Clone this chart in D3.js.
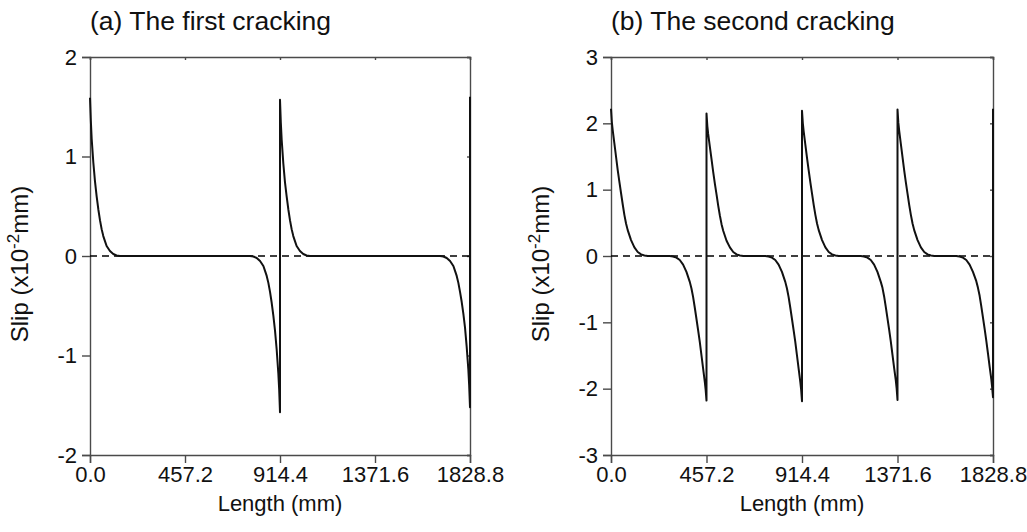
<!DOCTYPE html>
<html>
<head>
<meta charset="utf-8">
<script src="https://cdn.jsdelivr.net/npm/d3@7"></script>
<style>
  body { margin: 0; background: #fff; }
  svg text { font-family: "Liberation Sans", Arial, sans-serif; fill: #111; }
</style>
</head>
<body>
<svg id="chart" width="1027" height="532"></svg>
<script>
// ---------- DATA ----------
const xTicks = [0, 457.2, 914.4, 1371.6, 1828.8];
const xTickLabels = ["0.0", "457.2", "914.4", "1371.6", "1828.8"];

const titleA = "(a) The first cracking";
const titleB = "(b) The second cracking";
const yTicksA = [-2, -1, 0, 1, 2];
const yTicksB = [-3, -2, -1, 0, 1, 2, 3];

// (a) first cracking: slip along length (mm), slip (x10^-2 mm)
const slipA_x = [
  0, 4, 8, 16, 24, 32, 40, 48, 56, 64, 72, 80, 96, 112, 128, 144,
  770.4, 786.4, 802.4, 818.4, 834.4, 842.4, 850.4, 858.4, 866.4, 874.4, 882.4, 890.4, 898.4, 906.4, 910.4, 914.4,
  914.4, 918.4, 922.4, 930.4, 938.4, 946.4, 954.4, 962.4, 970.4, 978.4, 986.4, 994.4, 1010.4, 1026.4, 1042.4, 1058.4,
  1684.8, 1700.8, 1716.8, 1732.8, 1748.8, 1756.8, 1764.8, 1772.8, 1780.8, 1788.8, 1796.8, 1804.8, 1812.8, 1820.8, 1824.8, 1828.8,
  1828.8
];
const slipA_y = [
  1.59, 1.36, 1.18, 0.94, 0.75, 0.60, 0.47, 0.36, 0.27, 0.20, 0.15, 0.10, 0.05, 0.02, 0.005, 0,
  0, -0.005, -0.02, -0.05, -0.10, -0.15, -0.20, -0.27, -0.36, -0.47, -0.60, -0.75, -0.94, -1.18, -1.34, -1.57,
  1.57, 1.34, 1.17, 0.93, 0.74, 0.60, 0.47, 0.36, 0.27, 0.20, 0.15, 0.10, 0.05, 0.02, 0.005, 0,
  0, -0.005, -0.02, -0.05, -0.10, -0.15, -0.20, -0.27, -0.36, -0.46, -0.58, -0.72, -0.91, -1.14, -1.30, -1.52,
  1.60
];

// (b) second cracking
const slipB_x = [
  0, 4, 8, 16, 24, 32, 40, 48, 56, 64, 72, 80, 96, 112, 128, 144, 160, 176,
  281.2, 297.2, 313.2, 329.2, 345.2, 361.2, 377.2, 385.2, 393.2, 401.2, 409.2, 417.2, 425.2, 433.2, 441.2, 449.2, 453.2, 457.2,
  457.2, 461.2, 465.2, 473.2, 481.2, 489.2, 497.2, 505.2, 513.2, 521.2, 529.2, 537.2, 553.2, 569.2, 585.2, 601.2, 617.2, 633.2,
  738.4, 754.4, 770.4, 786.4, 802.4, 818.4, 834.4, 842.4, 850.4, 858.4, 866.4, 874.4, 882.4, 890.4, 898.4, 906.4, 910.4, 914.4,
  914.4, 918.4, 922.4, 930.4, 938.4, 946.4, 954.4, 962.4, 970.4, 978.4, 986.4, 994.4, 1010.4, 1026.4, 1042.4, 1058.4, 1074.4, 1090.4,
  1195.6, 1211.6, 1227.6, 1243.6, 1259.6, 1275.6, 1291.6, 1299.6, 1307.6, 1315.6, 1323.6, 1331.6, 1339.6, 1347.6, 1355.6, 1363.6, 1367.6, 1371.6,
  1371.6, 1375.6, 1379.6, 1387.6, 1395.6, 1403.6, 1411.6, 1419.6, 1427.6, 1435.6, 1443.6, 1451.6, 1467.6, 1483.6, 1499.6, 1515.6, 1531.6, 1547.6,
  1652.8, 1668.8, 1684.8, 1700.8, 1716.8, 1732.8, 1748.8, 1756.8, 1764.8, 1772.8, 1780.8, 1788.8, 1796.8, 1804.8, 1812.8, 1820.8, 1824.8, 1828.8,
  1828.8
];
const slipB_y = [
  2.22, 2.02, 1.90, 1.70, 1.50, 1.30, 1.12, 0.95, 0.78, 0.62, 0.49, 0.39, 0.24, 0.13, 0.06, 0.025, 0.008, 0,
  0, -0.008, -0.025, -0.06, -0.13, -0.24, -0.39, -0.49, -0.62, -0.78, -0.95, -1.12, -1.30, -1.50, -1.70, -1.90, -2.02, -2.18,
  2.15, 1.96, 1.84, 1.65, 1.46, 1.27, 1.09, 0.93, 0.76, 0.61, 0.48, 0.38, 0.23, 0.13, 0.06, 0.025, 0.008, 0,
  0, -0.008, -0.025, -0.06, -0.13, -0.24, -0.39, -0.49, -0.62, -0.78, -0.95, -1.12, -1.30, -1.50, -1.70, -1.90, -2.02, -2.19,
  2.19, 2.00, 1.88, 1.68, 1.48, 1.29, 1.11, 0.94, 0.77, 0.62, 0.49, 0.39, 0.24, 0.13, 0.06, 0.025, 0.008, 0,
  0, -0.008, -0.025, -0.06, -0.13, -0.24, -0.39, -0.48, -0.61, -0.77, -0.94, -1.11, -1.29, -1.49, -1.69, -1.88, -2.00, -2.17,
  2.21, 2.01, 1.89, 1.69, 1.49, 1.29, 1.11, 0.94, 0.77, 0.62, 0.49, 0.39, 0.24, 0.13, 0.06, 0.025, 0.008, 0,
  0, -0.008, -0.025, -0.06, -0.13, -0.24, -0.38, -0.48, -0.60, -0.76, -0.93, -1.10, -1.28, -1.47, -1.67, -1.86, -1.98, -2.13,
  2.22
];

// ---------- DRAW ----------
const svg = d3.select("#chart");
const panels = [
  { title: titleA, xs: slipA_x, ys: slipA_y, yDomain: [-2, 2], yTicks: yTicksA, left: 90, right: 470 },
  { title: titleB, xs: slipB_x, ys: slipB_y, yDomain: [-3, 3], yTicks: yTicksB, left: 611, right: 993 }
];
const plotTop = 57, plotBottom = 455;
const axisColor = "#4a4a4a";
const fontFam = "'Liberation Sans', Arial, sans-serif";

panels.forEach(p => {
  const x = d3.scaleLinear().domain([0, 1828.8]).range([p.left, p.right]);
  const y = d3.scaleLinear().domain(p.yDomain).range([plotBottom, plotTop]);
  const g = svg.append("g");

  const xAxis = d3.axisBottom(x).tickValues(xTicks).tickFormat((d, i) => xTickLabels[i]).tickSize(8).tickPadding(3);
  const gx = g.append("g").attr("transform", `translate(0,${plotBottom})`).call(xAxis);
  const yAxis = d3.axisLeft(y).tickValues(p.yTicks).tickFormat(d => String(d)).tickSize(8).tickPadding(5);
  const gy = g.append("g").attr("transform", `translate(${p.left},0)`).call(yAxis);
  const gt = g.append("g").attr("transform", `translate(0,${plotTop})`)
    .call(d3.axisTop(x).tickValues(xTicks).tickSize(-3).tickFormat(""));
  const gr = g.append("g").attr("transform", `translate(${p.right},0)`)
    .call(d3.axisRight(y).tickValues(p.yTicks).tickSize(-3).tickFormat(""));

  [gx, gy, gt, gr].forEach(a => {
    a.select(".domain").attr("stroke", axisColor).attr("stroke-width", 1.4);
    a.selectAll(".tick line").attr("stroke", axisColor).attr("stroke-width", 1.4);
    a.selectAll(".tick text").attr("fill", "#111").attr("font-size", 22).attr("font-family", fontFam);
  });

  g.append("line")
    .attr("x1", x(0)).attr("x2", x(1828.8))
    .attr("y1", y(0)).attr("y2", y(0))
    .attr("stroke", "#000").attr("stroke-width", 1.4)
    .attr("stroke-dasharray", "7,5");

  const pts = p.xs.map((v, i) => [v, p.ys[i]]);
  const line = d3.line().x(d => x(d[0])).y(d => y(d[1]));
  g.append("path").datum(pts)
    .attr("d", line)
    .attr("fill", "none")
    .attr("stroke", "#111")
    .attr("stroke-width", 2)
    .attr("stroke-linejoin", "round");

  g.append("text").attr("x", p.left).attr("y", 30)
    .style("font-size", "26.5px").text(p.title);

  g.append("text").attr("x", (p.left + p.right) / 2).attr("y", 511)
    .attr("text-anchor", "middle").style("font-size", "22px").text("Length (mm)");

  const yl = g.append("text")
    .attr("transform", `translate(${p.left - 62},${(plotTop + plotBottom) / 2 + 8}) rotate(-90)`)
    .attr("text-anchor", "middle").style("font-size", "24px");
  yl.append("tspan").text("Slip (x10");
  yl.append("tspan").attr("dy", -9).style("font-size", "17px").text("-2");
  yl.append("tspan").attr("dy", 9).text("mm)");
});
</script>
</body>
</html>
